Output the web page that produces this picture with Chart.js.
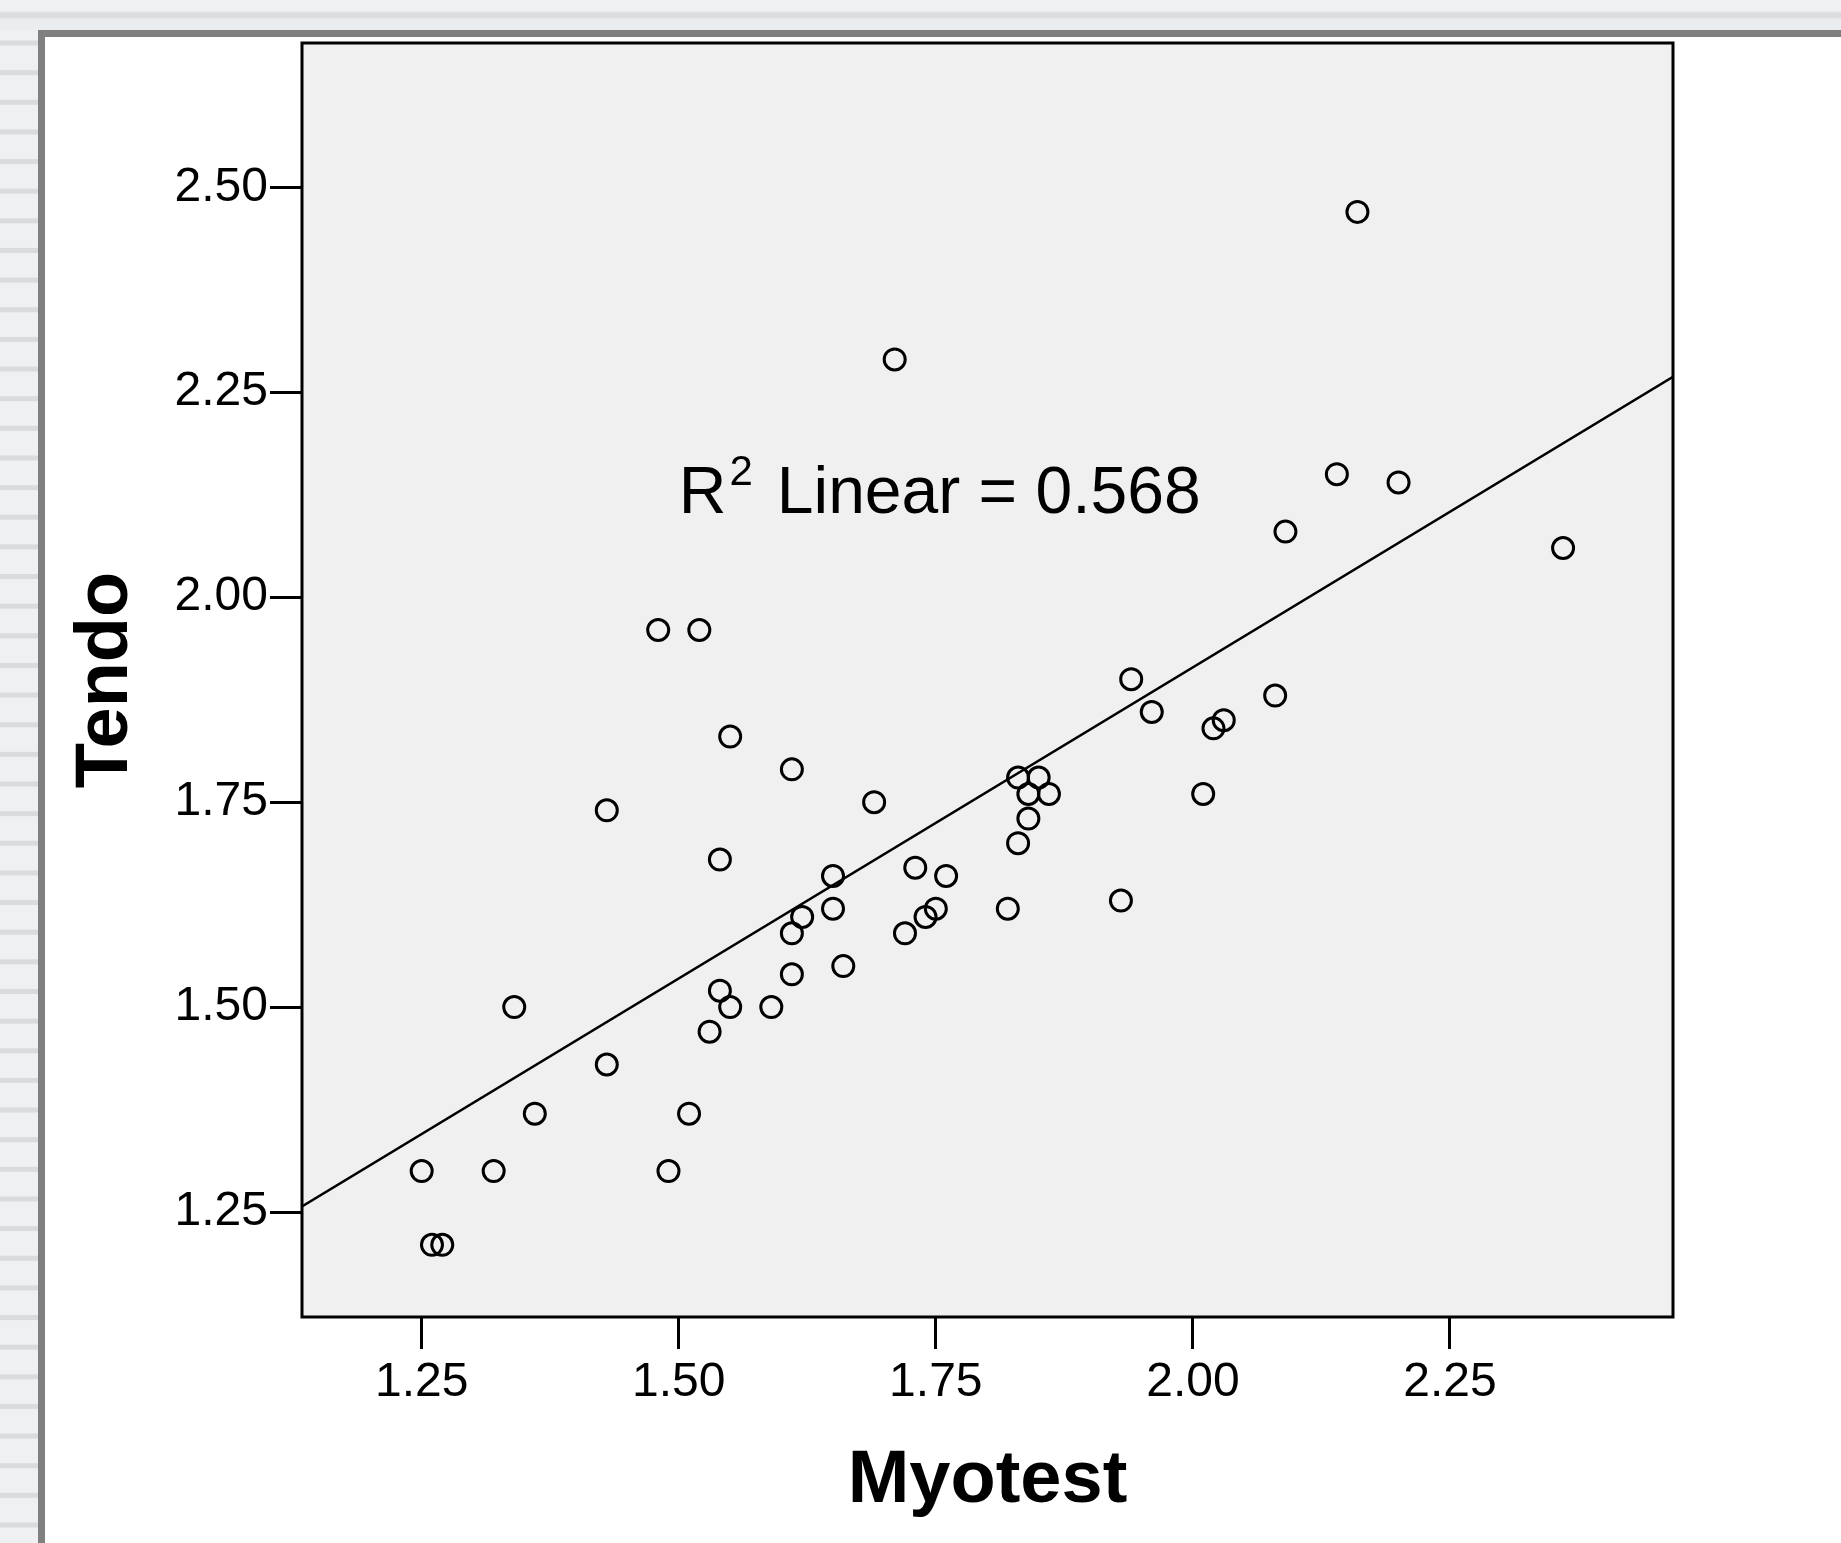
<!DOCTYPE html>
<html>
<head>
<meta charset="utf-8">
<script src="https://cdn.jsdelivr.net/npm/chart.js@4"></script>
<style>
  html, body { margin: 0; padding: 0; width: 1841px; height: 1543px; overflow: hidden; background: #eef0f2; }
  #topStrip { position: absolute; left: 0; top: 0; width: 1841px; height: 30px;
    background: linear-gradient(to bottom, #eff1f2 0, #eff1f2 11px, #dadcdd 13px, #dadcdd 17px, #eaedef 19px, #eaedef 30px); }
  #leftStrip { position: absolute; left: 0; top: 30px; width: 38px; height: 1513px;
    background: repeating-linear-gradient(to bottom, #eef0f1 0, #eef0f1 10px, #d9dbdc 11px, #d9dbdc 15px, #eef0f1 16px, #eef0f1 29.64px); }
  #frame { position: absolute; left: 38px; top: 30px; width: 1820px; height: 1530px;
    border: 7px solid #808080; background: #ffffff; }
  #wrap { position: absolute; left: 45px; top: 36px; width: 1796px; height: 1507px; }
</style>
</head>
<body>
<div id="topStrip"></div>
<div id="leftStrip"></div>
<div id="frame"></div>
<div id="wrap"><canvas id="scatter"></canvas></div>
<script>
// Myotest (x) and Tendo (y) values
const myotest = [1.25, 1.26, 1.27, 1.32, 1.34, 1.36, 1.43, 1.43, 1.48, 1.49,
                 1.51, 1.52, 1.53, 1.54, 1.54, 1.55, 1.55, 1.59, 1.61, 1.61,
                 1.61, 1.62, 1.65, 1.65, 1.66, 1.69, 1.71, 1.72, 1.73, 1.74,
                 1.75, 1.76, 1.82, 1.83, 1.83, 1.84, 1.84, 1.85, 1.86, 1.93,
                 1.94, 1.96, 2.01, 2.02, 2.03, 2.08, 2.09, 2.14, 2.16, 2.20, 2.36];
const tendo = [1.30, 1.21, 1.21, 1.30, 1.50, 1.37, 1.43, 1.74, 1.96, 1.30,
               1.37, 1.96, 1.47, 1.52, 1.68, 1.50, 1.83, 1.50, 1.54, 1.59,
               1.79, 1.61, 1.62, 1.66, 1.55, 1.75, 2.29, 1.59, 1.67, 1.61,
               1.62, 1.66, 1.62, 1.70, 1.78, 1.73, 1.76, 1.78, 1.76, 1.63,
               1.90, 1.86, 1.76, 1.84, 1.85, 1.88, 2.08, 2.15, 2.47, 2.14, 2.06];

const xTicks = [1.25, 1.50, 1.75, 2.00, 2.25];
const yTicks = [1.25, 1.50, 1.75, 2.00, 2.25, 2.50];
const xRange = [1.1336, 2.4669];
const yRange = [1.122, 2.676];
const fitLabel = ['R', '2', 'Linear = 0.568'];
const labelAt = [1.50, 2.103];

// least squares fit for the reference line
function linearFit(xs, ys) {
    const n = xs.length;
    const mx = xs.reduce((a, b) => a + b, 0) / n;
    const my = ys.reduce((a, b) => a + b, 0) / n;
    let sxy = 0, sxx = 0;
    for (let i = 0; i < n; i++) {
        sxy += (xs[i] - mx) * (ys[i] - my);
        sxx += (xs[i] - mx) * (xs[i] - mx);
    }
    const slope = sxy / sxx;
    return { slope: slope, intercept: my - slope * mx };
}

const fit = linearFit(myotest, tendo);
const fitLine = xRange.map(x => ({ x: x, y: fit.intercept + fit.slope * x }));
const points = myotest.map((x, i) => ({ x: x, y: tendo[i] }));

const FONT = "'Liberation Sans', Arial, Helvetica, sans-serif";

const plotBox = {
    id: 'plotBox',
    beforeDraw(chart) {
        const a = chart.chartArea, ctx = chart.ctx;
        ctx.save();
        ctx.fillStyle = '#f0f0f0';
        ctx.fillRect(a.left, a.top, a.right - a.left, a.bottom - a.top);
        ctx.restore();
    },
    afterDraw(chart) {
        const a = chart.chartArea, ctx = chart.ctx;
        ctx.save();
        ctx.strokeStyle = '#000';
        ctx.lineWidth = 3;
        ctx.strokeRect(a.left, a.top, a.right - a.left, a.bottom - a.top);

        // R² annotation
        const x0 = chart.scales.x.getPixelForValue(labelAt[0]);
        const y0 = chart.scales.y.getPixelForValue(labelAt[1]);
        ctx.fillStyle = '#000';
        ctx.textBaseline = 'alphabetic';
        ctx.textAlign = 'left';
        ctx.font = '66px ' + FONT;
        ctx.fillText(fitLabel[0], x0, y0);
        let x = x0 + ctx.measureText(fitLabel[0]).width + 3;
        ctx.font = '42px ' + FONT;
        ctx.fillText(fitLabel[1], x, y0 - 28);
        x += ctx.measureText(fitLabel[1]).width + 24;
        ctx.font = '66px ' + FONT;
        ctx.fillText(fitLabel[2], x, y0);
        ctx.restore();
    }
};

function noPad(s) {
    s.paddingTop = 0; s.paddingBottom = 0; s.paddingLeft = 0; s.paddingRight = 0;
}

function createScatter() {
    const ctx = document.getElementById('scatter').getContext('2d');
    new Chart(ctx, {
        type: 'scatter',
        data: {
            datasets: [{
                type: 'line',
                data: fitLine,
                borderColor: '#000',
                borderWidth: 2.5,
                pointRadius: 0,
                fill: false
            }, {
                data: points,
                pointRadius: 10.5,
                pointHoverRadius: 10.5,
                borderWidth: 3,
                borderColor: '#000',
                backgroundColor: 'rgba(0,0,0,0)'
            }]
        },
        options: {
            responsive: true,
            maintainAspectRatio: false,
            animation: false,
            layout: { autoPadding: false, padding: { left: 0, top: 7, right: 168, bottom: 0 } },
            plugins: { legend: { display: false }, tooltip: { enabled: false } },
            scales: {
                x: {
                    type: 'linear',
                    min: xRange[0], max: xRange[1],
                    afterBuildTicks: s => { s.ticks = xTicks.map(v => ({ value: v })); },
                    afterFit: s => { s.height = 226; noPad(s); },
                    border: { display: false },
                    grid: { drawOnChartArea: false, drawTicks: true, tickLength: 32, tickWidth: 3, tickColor: '#000' },
                    ticks: { color: '#000', font: { family: FONT, size: 48 }, padding: 5,
                             maxRotation: 0, callback: v => v.toFixed(2) },
                    title: { display: true, text: 'Myotest', color: '#000',
                             font: { family: FONT, size: 74, weight: 'bold' },
                             padding: { top: 0, bottom: 17 } }
                },
                y: {
                    type: 'linear',
                    min: yRange[0], max: yRange[1],
                    afterBuildTicks: s => { s.ticks = yTicks.map(v => ({ value: v })); },
                    afterFit: s => { s.width = 257; noPad(s); },
                    border: { display: false },
                    grid: { drawOnChartArea: false, drawTicks: true, tickLength: 32, tickWidth: 3, tickColor: '#000' },
                    ticks: { color: '#000', font: { family: FONT, size: 48 }, padding: 2,
                             callback: v => v.toFixed(2) },
                    title: { display: true, text: 'Tendo', color: '#000',
                             font: { family: FONT, size: 74, weight: 'bold' },
                             padding: { top: 17, bottom: 0 } }
                }
            }
        },
        plugins: [plotBox]
    });
}

createScatter();
</script>
</body>
</html>
